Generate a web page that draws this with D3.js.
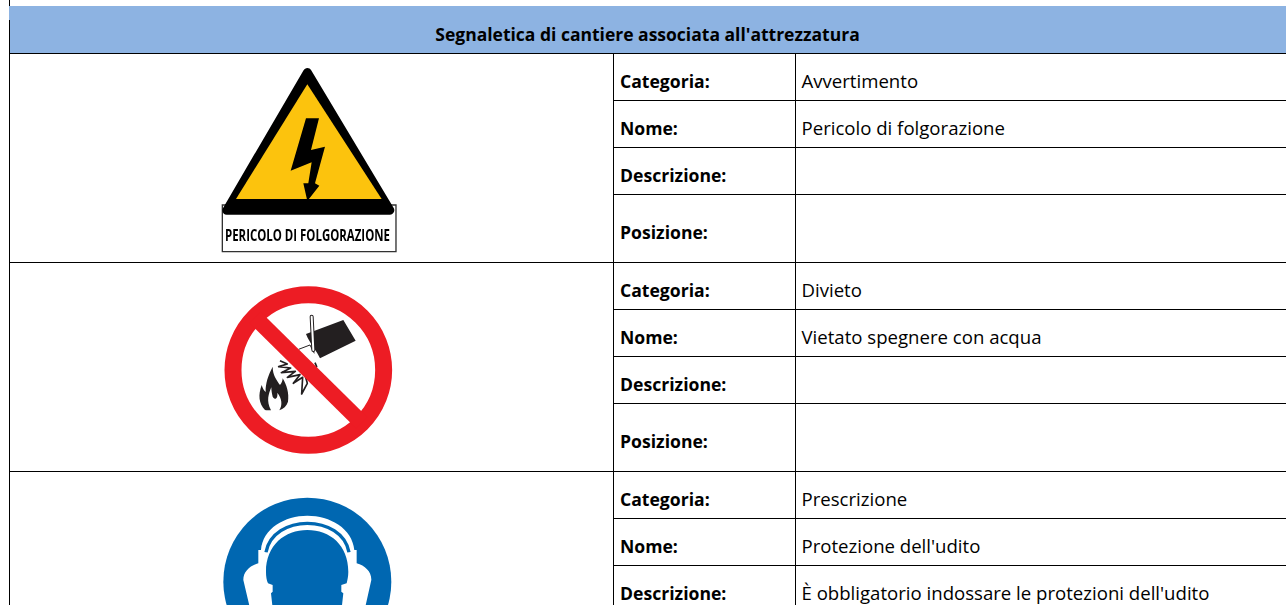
<!DOCTYPE html>
<html>
<head>
<meta charset="utf-8">
<script src="https://cdn.jsdelivr.net/npm/d3@7"></script>
<style>
  html, body { margin: 0; padding: 0; background: #fff; overflow: hidden; }
  text { font-family: "Open Sans", Lato, sans-serif; fill: #000; font-variant-ligatures: none; }
</style>
</head>
<body>
<svg id="chart" width="1286" height="605"></svg>
<script>
var title = "Segnaletica di cantiere associata all'attrezzatura";
var fields = ["Categoria:", "Nome:", "Descrizione:", "Posizione:"];
var categories = ["Avvertimento", "Divieto", "Prescrizione"];
var names = ["Pericolo di folgorazione", "Vietato spegnere con acqua", "Protezione dell'udito"];
var descriptions = ["", "", "È obbligatorio indossare le protezioni dell'udito"];
var positions = ["", "", ""];

var width = 1286, height = 605;
var svg = d3.select("#chart");

// one block per sign, 4 rows per block (last row is taller)
var blockY = d3.scaleLinear().domain([0, 1]).range([53, 262]);
var rowTop = d3.scaleOrdinal().domain(fields).range([0, 47, 94, 141]);
var rowBottom = d3.scaleOrdinal().domain(fields).range([47, 94, 141, 209]);
var colX = { left: 9, field: 613, value: 795, right: width };

//************************ header *************************/
svg.append("rect")
  .attr("x", colX.left).attr("y", 6)
  .attr("width", width - colX.left).attr("height", 47)
  .attr("fill", "#8db3e2");

svg.append("text")
  .attr("x", 647.5).attr("y", 41)
  .attr("text-anchor", "middle")
  .attr("font-weight", 700)
  .attr("font-size", 17.5)
  .text(title);

//************************ rows *************************/
var rows = [];
categories.forEach(function(c, i) {
  var vals = [c, names[i], descriptions[i], positions[i]];
  fields.forEach(function(f, j) {
    rows.push({ block: i, field: f, value: vals[j] });
  });
});

function rowMid(d) {
  return blockY(d.block) + (rowTop(d.field) + rowBottom(d.field)) / 2 + 11.3;
}

// the last block runs off the bottom of the page
var visibleRows = rows.filter(function(d) { return rowMid(d) < height; });

svg.append("g").selectAll("text")
  .data(visibleRows).enter().append("text")
  .attr("x", colX.field + 7)
  .attr("y", rowMid)
  .attr("font-weight", 700)
  .attr("font-size", 17.6)
  .text(function(d) { return d.field; });

svg.append("g").selectAll("text")
  .data(visibleRows).enter().append("text")
  .attr("x", colX.value + 6.5)
  .attr("y", rowMid)
  .attr("font-size", 18.6)
  .text(function(d) { return d.value; });

//************************ grid lines *************************/
var grid = svg.append("g").attr("stroke", "#000").attr("shape-rendering", "crispEdges");

grid.selectAll("line.row")
  .data(visibleRows).enter().append("line")
  .attr("class", "row")
  .attr("x1", colX.field).attr("x2", colX.right)
  .attr("y1", function(d) { return blockY(d.block) + rowBottom(d.field) + 0.5; })
  .attr("y2", function(d) { return blockY(d.block) + rowBottom(d.field) + 0.5; });

grid.selectAll("line.block")
  .data(d3.range(-1, categories.length)).enter().append("line")
  .attr("class", "block")
  .attr("x1", colX.left).attr("x2", colX.right)
  .attr("y1", function(d) { return blockY(d + 1) + 0.5; })
  .attr("y2", function(d) { return blockY(d + 1) + 0.5; });

grid.selectAll("line.col")
  .data([colX.field, colX.value]).enter().append("line")
  .attr("class", "col")
  .attr("x1", function(d) { return d + 0.5; }).attr("x2", function(d) { return d + 0.5; })
  .attr("y1", 53).attr("y2", height);

grid.append("line").attr("x1", 9.5).attr("x2", 9.5).attr("y1", 0).attr("y2", 6);
grid.append("line").attr("x1", 9.5).attr("x2", 9.5).attr("y1", 20).attr("y2", height);

//************************ signs *************************/
// shapes are drawn in 3x coordinates, that's how they were measured
function sign(x, y) {
  return svg.append("g").attr("transform", "translate(" + x + "," + y + ") scale(0.3333)");
}

var defs = svg.append("defs");
defs.append("filter").attr("id", "soft").append("feGaussianBlur").attr("stdDeviation", 2);

// warning triangle
var warn = sign(200, 55).attr("filter", "url(#soft)");
warn.append("path")
  .attr("d", "M67,450L588,450L588,590L67,590Z")
  .attr("fill", "#fff").attr("stroke", "#333").attr("stroke-width", 4);
warn.append("path")
  .attr("d", "M322,52L570,466L80,466Z")
  .attr("fill", "#000").attr("stroke", "#000").attr("stroke-width", 26).attr("stroke-linejoin", "round");
warn.append("path")
  .attr("d", "M322,88L545,432L108,432Z")
  .attr("fill", "#fcc30f");
warn.append("path")
  .attr("d", "M318,190L357,190L333,285L375,275L345,385L358,392L322,438L310,385L325,385L335,322L272,347Z")
  .attr("fill", "#000");
warn.append("text")
  .attr("x", 75).attr("y", 558)
  .attr("textLength", 495).attr("lengthAdjust", "spacingAndGlyphs")
  .attr("font-family", "'Liberation Sans', sans-serif")
  .attr("font-weight", 700)
  .attr("font-size", 50)
  .text("PERICOLO DI FOLGORAZIONE");

// prohibition sign, bucket on fire
var ban = sign(200, 270);
var flame = "M195,420C176,400 174,375 185,345C188,355 192,362 197,366C196,340 205,315 218,290C218,315 230,330 240,345C245,340 248,332 248,325C260,345 268,370 264,395C260,408 250,417 238,421C248,405 246,385 232,368C234,385 226,392 218,380C216,372 214,362 214,352C206,372 198,392 213,421C207,421 200,421 195,420Z";
ban.append("path").attr("d", flame).attr("fill", "#231f20");
ban.append("path")
  .attr("d", "M318,192L430,150L467,212L360,265C352,245 330,222 318,192Z")
  .attr("fill", "#231f20");
ban.append("path")
  .attr("d", "M296,238L330,225L343,250")
  .attr("fill", "none").attr("stroke", "#231f20").attr("stroke-width", 3);
ban.append("path")
  .attr("d", "M335,140L340,240")
  .attr("stroke", "#231f20").attr("stroke-width", 12).attr("stroke-linecap", "round");
ban.append("path")
  .attr("d", "M335,140L340,240")
  .attr("stroke", "#fff").attr("stroke-width", 6).attr("stroke-linecap", "round");
ban.append("path")
  .attr("d", "M240,272L262,282L236,290L272,294L244,308L286,304L262,322L300,314L280,340L308,322L305,372L322,340L316,318L350,290L345,278")
  .attr("fill", "none").attr("stroke", "#231f20").attr("stroke-width", 5).attr("stroke-linejoin", "round");
ban.append("circle")
  .attr("cx", 325).attr("cy", 300).attr("r", 226)
  .attr("fill", "none").attr("stroke", "#ed1c24").attr("stroke-width", 51);
ban.append("path")
  .attr("d", "M165,142L485,458")
  .attr("stroke", "#ed1c24").attr("stroke-width", 48);

// mandatory sign, ear protection
var must = sign(200, 475);
must.append("circle").attr("cx", 322).attr("cy", 320).attr("r", 252).attr("fill", "#0067b1");
must.append("path")
  .attr("d", "M175,265L175,225L183,225C188,160 255,122 322,122C390,122 457,160 463,225L470,225L470,265C495,272 515,290 514,315L495,400L150,400L130,315C130,290 150,272 175,265Z")
  .attr("fill", "#fff");
must.append("path")
  .attr("d", "M198,232C208,175 265,145 322,145C380,145 437,175 447,232")
  .attr("fill", "none").attr("stroke", "#0067b1").attr("stroke-width", 10);
must.append("path")
  .attr("d", "M198,290C198,210 255,165 322,165C390,165 445,210 445,290C445,305 442,315 440,325L424,330L424,350L430,355L425,400L218,400L213,355L218,350L218,330L204,325C200,315 198,305 198,290Z")
  .attr("fill", "#0067b1");
</script>
</body>
</html>
